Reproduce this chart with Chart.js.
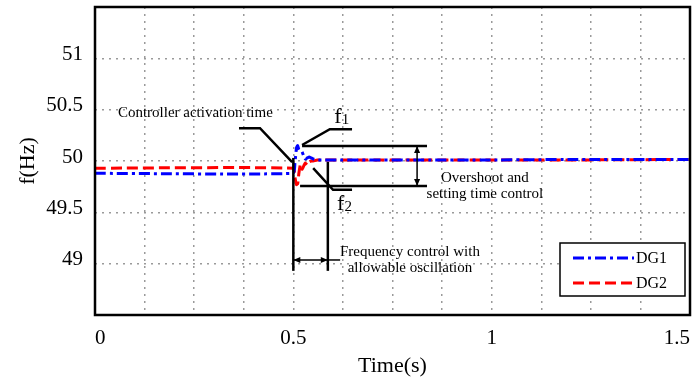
<!DOCTYPE html>
<html>
<head>
<meta charset="utf-8">
<script src="https://cdn.jsdelivr.net/npm/chart.js@4/dist/chart.umd.min.js"></script>
<style>
  html, body { margin: 0; padding: 0; background: #fff; }
  #wrap { width: 692px; height: 383px; }
</style>
</head>
<body>
<div id="wrap"><canvas id="freq"></canvas></div>
<script>
// time base shared by both generators (s)
const timeS = [0, 0.5, 0.504, 0.508, 0.511, 0.514, 0.518, 0.522, 0.526, 0.53, 0.535, 0.54,
  0.545, 0.55, 0.56, 0.58, 0.6, 0.8, 1.0, 1.2, 1.5];
const dg1Hz = [49.88, 49.88, 49.98, 50.13, 50.15, 50.11, 50.1, 50.09, 50.05, 50.02, 50.03, 50.04,
  50.03, 50.02, 50.01, 50.01, 50.01, 50.01, 50.01, 50.015, 50.015];
const dg2Hz = [49.93, 49.93, 49.84, 49.77, 49.78, 49.88, 49.97, 49.92, 49.95, 49.98, 49.96, 49.99,
  50.0, 50.0, 50.01, 50.01, 50.01, 50.01, 50.01, 50.01, 50.015];
const seriesNames = ['DG1', 'DG2'];
const yTickVals = [49, 49.5, 50, 50.5, 51];

// annotation geometry, in (time, Hz)
const activationLeader = [[0.363, 50.32], [0.416, 50.32], [0.497, 49.99]];
const f1Leader = [[0.522, 50.156], [0.592, 50.31], [0.648, 50.31]];
const f2Leader = [[0.55, 49.93], [0.6, 49.72], [0.648, 49.72]];
const overshootTop = [[0.522, 50.146], [0.837, 50.146]];
const overshootBottom = [[0.517, 49.757], [0.837, 49.757]];
const overshootArrow = [[0.812, 50.146], [0.812, 49.757]];
const startMarker = [[0.5, 50.03], [0.5, 48.93]];
const settleMarker = [[0.587, 49.99], [0.587, 48.93]];
const bandArrow = [[0.5, 49.036], [0.587, 49.036]];
const bandTail = [[0.587, 49.036], [0.618, 49.036]];

const SERIF = "'Liberation Serif', 'Times New Roman', serif";

function arrowHead(ctx, x, y, dx, dy) {
  const len = Math.hypot(dx, dy) || 1;
  const ux = dx / len, uy = dy / len;
  ctx.beginPath();
  ctx.moveTo(x, y);
  ctx.lineTo(x - ux * 7 - uy * 3, y - uy * 7 + ux * 3);
  ctx.lineTo(x - ux * 7 + uy * 3, y - uy * 7 - ux * 3);
  ctx.closePath();
  ctx.fill();
}

const annotations = {
  id: 'annotations',
  afterDatasetsDraw(chart) {
    const { ctx, chartArea: a, scales: { x, y } } = chart;
    const px = p => [x.getPixelForValue(p[0]), y.getPixelForValue(p[1])];
    const path = pts => {
      ctx.beginPath();
      pts.map(px).forEach((p, i) => i ? ctx.lineTo(p[0], p[1]) : ctx.moveTo(p[0], p[1]));
      ctx.stroke();
    };
    ctx.save();
    ctx.strokeStyle = '#000';
    ctx.fillStyle = '#000';
    ctx.lineWidth = 2.5;
    [activationLeader, f1Leader, f2Leader, overshootTop, overshootBottom,
      startMarker, settleMarker].forEach(path);
    ctx.lineWidth = 1.5;
    [overshootArrow, bandArrow, bandTail].forEach(path);

    let [ax, ay] = px(overshootArrow[0]);
    let [bx, by] = px(overshootArrow[1]);
    arrowHead(ctx, ax, ay, 0, -1);
    arrowHead(ctx, bx, by, 0, 1);
    [ax, ay] = px(bandArrow[0]);
    [bx, by] = px(bandArrow[1]);
    arrowHead(ctx, ax, ay, -1, 0);
    arrowHead(ctx, bx, by, 1, 0);

    const text = (s, t, f, size) => {
      ctx.font = size + 'px ' + SERIF;
      ctx.fillText(s, x.getPixelForValue(t), y.getPixelForValue(f));
    };
    ctx.textAlign = 'center';
    ctx.textBaseline = 'middle';
    text('Controller activation time', 0.253, 50.47, 15);
    text('Overshoot and', 0.983, 49.83, 15);
    text('setting time control', 0.983, 49.675, 15);
    text('Frequency control with', 0.794, 49.114, 15);
    text('allowable oscillation', 0.794, 48.958, 15);
    ctx.textAlign = 'left';
    text('f', 0.603, 50.43, 22);
    text('1', 0.622, 50.40, 15);
    text('f', 0.61, 49.58, 22);
    text('2', 0.629, 49.55, 15);

    // frame round the plot area
    ctx.lineWidth = 2.5;
    ctx.strokeRect(a.left, a.top, a.right - a.left, a.bottom - a.top);

    // legend box
    const lx = a.right - 130, ly = a.bottom - 72, lw = 125, lh = 53;
    ctx.fillStyle = '#fff';
    ctx.fillRect(lx, ly, lw, lh);
    ctx.lineWidth = 1.5;
    ctx.strokeRect(lx, ly, lw, lh);
    chart.data.datasets.forEach((ds, i) => {
      const rowY = ly + 15 + i * 25;
      ctx.strokeStyle = ds.borderColor;
      ctx.lineWidth = ds.borderWidth;
      ctx.setLineDash(ds.borderDash);
      ctx.beginPath();
      ctx.moveTo(lx + 13, rowY);
      ctx.lineTo(lx + 74, rowY);
      ctx.stroke();
      ctx.setLineDash([]);
      ctx.fillStyle = '#000';
      ctx.font = '16px ' + SERIF;
      ctx.textBaseline = 'middle';
      ctx.fillText(ds.label, lx + 76, rowY + 1);
    });
    ctx.restore();
  }
};

new Chart(document.getElementById('freq'), {
  type: 'line',
  data: {
    labels: timeS,
    datasets: [
      {
        label: seriesNames[0],
        data: timeS.map((t, i) => ({ x: t, y: dg1Hz[i] })),
        borderColor: '#0000ff',
        borderWidth: 3,
        borderDash: [11, 4, 3, 4],
        pointRadius: 0,
        tension: 0.15
      },
      {
        label: seriesNames[1],
        data: timeS.map((t, i) => ({ x: t, y: dg2Hz[i] })),
        borderColor: '#ff0000',
        borderWidth: 3,
        borderDash: [11, 5],
        pointRadius: 0,
        tension: 0.15
      }
    ]
  },
  options: {
    responsive: true,
    maintainAspectRatio: false,
    animation: false,
    layout: { padding: { top: 7, right: 2, left: 0, bottom: 0 } },
    plugins: { legend: { display: false }, tooltip: { enabled: false } },
    scales: {
      x: {
        type: 'linear',
        min: 0,
        max: 1.5,
        afterFit: s => { s.height = 68; s.paddingLeft = 0; s.paddingRight = 0; },
        ticks: {
          stepSize: 0.125,
          autoSkip: false,
          maxRotation: 0,
          align: 'inner',
          padding: 11,
          color: '#000',
          font: { family: SERIF, size: 21 },
          callback: v => (Math.abs(v * 2 - Math.round(v * 2)) < 1e-6 ? String(v) : '')
        },
        grid: { color: '#9a9a9a', lineWidth: 1.5, drawTicks: false },
        border: { display: false, dash: [2, 5] },
        title: {
          display: true,
          text: 'Time(s)',
          color: '#000',
          font: { family: SERIF, size: 22 },
          padding: { top: 0, bottom: 4 }
        }
      },
      y: {
        min: 48.5,
        max: 51.5,
        afterBuildTicks: s => { s.ticks = yTickVals.map(v => ({ value: v })); },
        afterFit: s => { s.width = 95; s.paddingTop = 0; s.paddingBottom = 0; },
        ticks: {
          padding: 12,
          labelOffset: -4,
          color: '#000',
          font: { family: SERIF, size: 21 },
          callback: v => String(v)
        },
        grid: { color: '#9a9a9a', lineWidth: 1.5, drawTicks: false },
        border: { display: false, dash: [2, 5] },
        title: {
          display: true,
          text: 'f(Hz)',
          color: '#000',
          font: { family: SERIF, size: 22 },
          padding: { top: 15, bottom: 0 }
        }
      }
    }
  },
  plugins: [annotations]
});
</script>
</body>
</html>
